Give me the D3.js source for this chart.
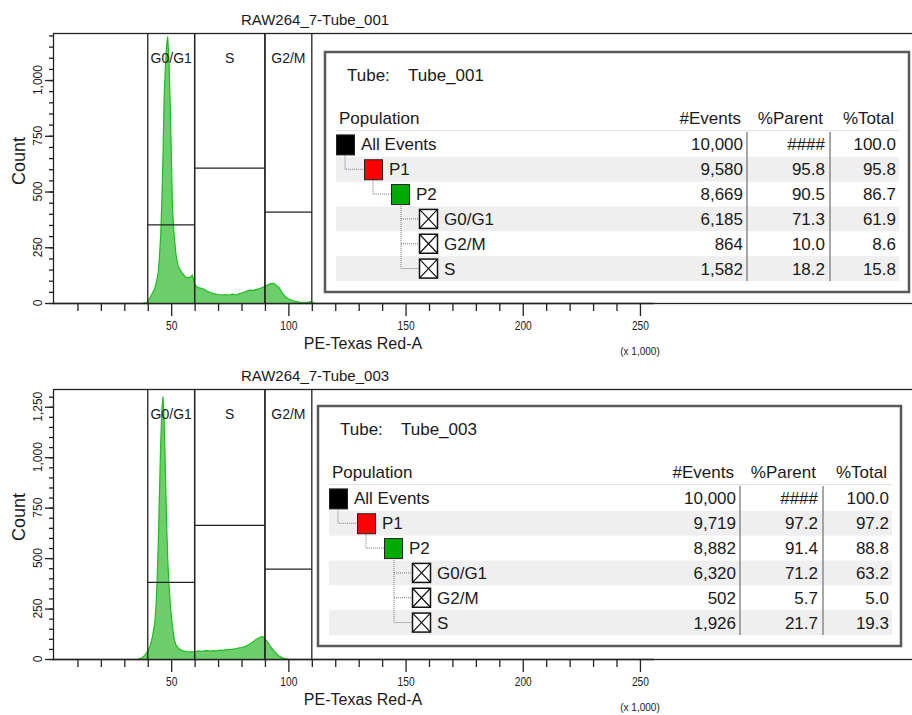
<!DOCTYPE html>
<html>
<head>
<meta charset="utf-8">
<script src="https://cdn.jsdelivr.net/npm/d3@7"></script>
<style>
  body { margin: 0; background: #fff; }
  text { font-family: "Liberation Sans", Arial, sans-serif; fill: #1a1a1a; }
</style>
</head>
<body>
<script>
// histogram channels (x 1,000) and counts
const tube001X = [38, 39, 40, 41, 42, 43, 43.5, 44, 44.5, 45, 45.5, 46, 46.5, 47, 47.5, 48, 48.5, 49, 49.5, 50, 50.5, 51, 51.5, 52, 52.5, 53,
  54, 55, 56, 57, 58, 59, 60, 61, 62, 63, 64, 65, 66, 67, 68, 69, 70, 71, 72, 73, 74, 75, 76, 77, 78, 79, 80,
  81, 82, 83, 84, 85, 86, 87, 88, 89, 90, 91, 92, 93, 94, 95, 96, 97, 98, 99, 100, 101, 102, 103, 104, 105, 106, 107, 108, 109, 110, 111];
const tube001Counts = [0, 0, 6, 25, 45, 65, 85, 110, 140, 210, 300, 450, 660, 925, 1050, 1150, 1195, 1100, 920, 700, 450, 340, 280, 220, 190, 165,
  145, 130, 118, 112, 115, 125, 85, 72, 68, 66, 62, 55, 50, 46, 43, 40, 38, 37, 36, 38, 35, 37, 40, 38, 36, 42, 45,
  48, 52, 56, 58, 55, 60, 63, 66, 70, 75, 80, 85, 88, 86, 78, 70, 52, 36, 26, 18, 14, 10, 7, 5, 3, 2, 1, 2, 6, 3, 0];

const tube003X = [36, 37, 38, 39, 40, 41, 42, 43, 43.5, 44, 44.5, 45, 45.5, 46, 46.5, 47, 47.5, 48, 48.5, 49, 49.5, 50, 50.5, 51, 51.5, 52,
  53, 54, 55, 56, 57, 58, 59, 60, 61, 62, 63, 64, 65, 66, 67, 68, 69, 70, 71, 72, 73, 74, 75, 76, 77, 78, 79, 80,
  81, 82, 83, 84, 85, 86, 87, 88, 89, 90, 91, 92, 93, 94, 95, 96, 97, 98, 99, 100];
const tube003Counts = [0, 3, 10, 22, 40, 65, 110, 180, 260, 390, 580, 820, 1060, 1230, 1300, 1180, 950, 700, 500, 380, 290, 220, 170, 120, 90, 70,
  55, 45, 40, 38, 36, 35, 35, 36, 38, 40, 38, 40, 41, 40, 39, 41, 40, 42, 44, 43, 45, 46, 47, 48, 50, 52, 55, 57,
  60, 64, 70, 78, 86, 95, 102, 108, 112, 100, 85, 68, 52, 38, 25, 15, 8, 3, 1, 0];

// interval gates
const gateNames = ['G0/G1', 'S', 'G2/M'];
const gateStart = [40, 60, 90];
const gateEnd = [60, 90, 110];
const tube001GateLevel = [350, 605, 408];
const tube003GateLevel = [380, 662, 445];

// axis ticks
const xTickLabels = [50, 100, 150, 200, 250];
const tube001YTicks = [0, 250, 500, 750, 1000];
const tube003YTicks = [0, 250, 500, 750, 1000, 1250];

// statistics tables
const populations = ['All Events', 'P1', 'P2', 'G0/G1', 'G2/M', 'S'];
const popLevel = [0, 1, 2, 3, 3, 3];
const popIcon = ['#000000', '#ff0000', '#00aa00', 'cross', 'cross', 'cross'];
const tube001Events = ['10,000', '9,580', '8,669', '6,185', '864', '1,582'];
const tube001Parent = ['####', '95.8', '90.5', '71.3', '10.0', '18.2'];
const tube001Total = ['100.0', '95.8', '86.7', '61.9', '8.6', '15.8'];
const tube003Events = ['10,000', '9,719', '8,882', '6,320', '502', '1,926'];
const tube003Parent = ['####', '97.2', '91.4', '71.2', '5.7', '21.7'];
const tube003Total = ['100.0', '97.2', '88.8', '63.2', '5.0', '19.3'];

const svg = d3.select('body').append('svg')
  .attr('width', 912)
  .attr('height', 715);

function drawPanel(p) {
  const g = svg.append('g').attr('transform', `translate(0,${p.dy})`);
  const top = 33, bottom = 303;

  const x = d3.scaleLinear().domain([0, 256]).range([54, 654]);
  const y = d3.scaleLinear().domain([0, p.yMax]).range([bottom, top]);

  g.append('text')
    .attr('x', 315).attr('y', 25)
    .attr('text-anchor', 'middle')
    .style('font-size', '15px')
    .text(p.title);

  // plot frame (runs out to the right edge of the window)
  g.append('rect')
    .attr('x', 53.5).attr('y', top + 0.5)
    .attr('width', 880).attr('height', bottom - top)
    .style('fill', 'none')
    .style('stroke', '#222')
    .style('stroke-width', 1.3);

  // histogram
  const pts = p.xs.map((v, i) => [v, p.counts[i]]);
  g.append('path')
    .datum(pts)
    .attr('d', d3.area().x(d => x(d[0])).y0(bottom).y1(d => y(d[1])))
    .style('fill', '#6ccf6c');
  g.append('path')
    .datum(pts)
    .attr('d', d3.line().x(d => x(d[0])).y(d => y(d[1])))
    .style('fill', 'none')
    .style('stroke', '#1dbd1d')
    .style('stroke-width', 1.2);

  // gates
  gateNames.forEach((name, i) => {
    const x0 = x(gateStart[i]), x1 = x(gateEnd[i]);
    g.append('line').attr('x1', x0).attr('x2', x0).attr('y1', top).attr('y2', bottom)
      .style('stroke', '#222').style('stroke-width', 1.3);
    g.append('line').attr('x1', x1).attr('x2', x1).attr('y1', top).attr('y2', bottom)
      .style('stroke', '#222').style('stroke-width', 1.3);
    g.append('line').attr('x1', x0).attr('x2', x1)
      .attr('y1', y(p.gateLevel[i])).attr('y2', y(p.gateLevel[i]))
      .style('stroke', '#222').style('stroke-width', 1.3);
    g.append('text')
      .attr('x', (x0 + x1) / 2).attr('y', top + 30)
      .attr('text-anchor', 'middle')
      .style('font-size', '14px')
      .text(name);
  });

  // x axis
  const xMinor = d3.range(10, 260, 10).filter(v => v % 50 !== 0);
  const xMinorAxis = g.append('g').attr('transform', `translate(0,${bottom})`)
    .call(d3.axisBottom(x).tickValues(xMinor).tickSize(8).tickFormat(''));
  const xMajorAxis = g.append('g').attr('transform', `translate(0,${bottom})`)
    .call(d3.axisBottom(x).tickValues(xTickLabels).tickSize(13).tickPadding(5));
  [xMinorAxis, xMajorAxis].forEach(a => {
    a.select('.domain').remove();
    a.selectAll('line').style('stroke', '#222').style('stroke-width', 1.3);
  });
  xMajorAxis.selectAll('text')
    .style('font-size', '12px')
    .style('font-family', '"Liberation Sans", Arial, sans-serif')
    .attr('fill', '#1a1a1a')
    .attr('transform', 'scale(0.85,1)');
  g.append('line').attr('x1', 53).attr('x2', 654).attr('y1', bottom + 0.5).attr('y2', bottom + 0.5)
    .style('stroke', '#222').style('stroke-width', 1.5);

  g.append('text')
    .attr('x', 363).attr('y', 349)
    .attr('text-anchor', 'middle')
    .style('font-size', '16px')
    .text('PE-Texas Red-A');
  g.append('text')
    .attr('x', 640).attr('y', 355)
    .attr('text-anchor', 'middle')
    .style('font-size', '10px')
    .text('(x 1,000)');

  // y axis
  const yMinorAxis = g.append('g').attr('transform', 'translate(54,0)')
    .call(d3.axisLeft(y).tickValues(d3.range(0, p.yMax, 50)).tickSize(5).tickFormat(''));
  const yMajorAxis = g.append('g').attr('transform', 'translate(54,0)')
    .call(d3.axisLeft(y).tickValues(p.yTicks).tickSize(9).tickFormat(''));
  [yMinorAxis, yMajorAxis].forEach(a => {
    a.select('.domain').remove();
    a.selectAll('line').style('stroke', '#222').style('stroke-width', 1.3);
  });
  g.selectAll('.ylab')
    .data(p.yTicks)
    .join('text')
    .attr('class', 'ylab')
    .attr('transform', d => `translate(42,${y(d)}) rotate(-90)`)
    .attr('text-anchor', 'middle')
    .style('font-size', '12px')
    .text(d3.format(','));
  g.append('text')
    .attr('transform', `translate(25,161) rotate(-90)`)
    .attr('text-anchor', 'middle')
    .style('font-size', '18px')
    .text('Count');

  drawTable(g, p.tableX, p.tableY, p.tableW, p.tube, p.events, p.parent, p.total);
}

function drawTable(g, tx, ty, w, tube, events, parent, total) {
  const t = g.append('g').attr('transform', `translate(${tx},${ty})`);
  const row = d3.scaleBand().domain(populations).range([80, 229]);
  const levelX = [11, 39, 66, 94];
  const colRight = [418, 500, 571];
  const sep = [422, 505];

  t.append('rect')
    .attr('width', w).attr('height', 240)
    .style('fill', '#fff')
    .style('stroke', '#5a5a5a')
    .style('stroke-width', 2.5);

  t.append('text').attr('x', 22).attr('y', 29).style('font-size', '17px').text('Tube:');
  t.append('text').attr('x', 83).attr('y', 29).style('font-size', '17px').text(tube);

  t.append('text').attr('x', 14).attr('y', 72).style('font-size', '17px').text('Population');
  ['#Events', '%Parent', '%Total'].forEach((h, i) => {
    t.append('text').attr('x', colRight[i] - 2).attr('y', 72)
      .attr('text-anchor', 'end').style('font-size', '17px').text(h);
  });
  t.append('line').attr('x1', 11).attr('x2', 574).attr('y1', 78.5).attr('y2', 78.5)
    .style('stroke', '#e4e4e4');

  // shaded rows
  t.selectAll('.band')
    .data(populations.filter((d, i) => i % 2 === 1))
    .join('rect')
    .attr('x', 11).attr('width', 563)
    .attr('y', d => row(d)).attr('height', row.bandwidth())
    .style('fill', '#efefef');

  sep.forEach(sx => {
    t.append('line').attr('x1', sx).attr('x2', sx).attr('y1', 80).attr('y2', 229)
      .style('stroke', '#8a8a8a').style('stroke-width', 1.5);
  });

  // tree connectors
  const mid = d => row(d) + row.bandwidth() / 2;
  const dotted = sel => sel.style('fill', 'none').style('stroke', '#777').style('stroke-dasharray', '1,1');
  t.append('path').call(dotted)
    .attr('d', `M${levelX[0] + 9},${mid('All Events') + 10}V${mid('P1')}H${levelX[1]}`);
  t.append('path').call(dotted)
    .attr('d', `M${levelX[1] + 9},${mid('P1') + 10}V${mid('P2')}H${levelX[2]}`);
  t.append('path').call(dotted)
    .attr('d', `M${levelX[2] + 10},${mid('P2') + 10}V${mid('S')}H${levelX[3]}` +
      `M${levelX[2] + 10},${mid('G0/G1')}H${levelX[3]}M${levelX[2] + 10},${mid('G2/M')}H${levelX[3]}`);

  populations.forEach((pop, i) => {
    const ix = levelX[popLevel[i]], cy = mid(pop);
    if (popIcon[i] === 'cross') {
      t.append('rect').attr('x', ix + 0.5).attr('y', cy - 9.5).attr('width', 18).attr('height', 19)
        .style('fill', '#fff').style('stroke', '#111').style('stroke-width', 1.5);
      t.append('path').attr('d', `M${ix + 1},${cy - 9}L${ix + 18},${cy + 9}M${ix + 18},${cy - 9}L${ix + 1},${cy + 9}`)
        .style('stroke', '#111').style('stroke-width', 1.2);
    } else {
      t.append('rect').attr('x', ix + 0.5).attr('y', cy - 9.5).attr('width', 18).attr('height', 20)
        .style('fill', popIcon[i]).style('stroke', '#222').style('stroke-width', 1);
    }
    t.append('text').attr('x', ix + 25).attr('y', cy + 6).style('font-size', '17px').text(pop);
    [events[i], parent[i], total[i]].forEach((v, j) => {
      t.append('text').attr('x', colRight[j]).attr('y', cy + 6)
        .attr('text-anchor', 'end').style('font-size', '17px').text(v);
    });
  });
}

drawPanel({
  dy: 0, yMax: 1211, title: 'RAW264_7-Tube_001',
  xs: tube001X, counts: tube001Counts, gateLevel: tube001GateLevel, yTicks: tube001YTicks,
  tableX: 325, tableY: 52, tableW: 584, tube: 'Tube_001',
  events: tube001Events, parent: tube001Parent, total: tube001Total
});

drawPanel({
  dy: 356, yMax: 1338, title: 'RAW264_7-Tube_003',
  xs: tube003X, counts: tube003Counts, gateLevel: tube003GateLevel, yTicks: tube003YTicks,
  tableX: 318, tableY: 50, tableW: 583, tube: 'Tube_003',
  events: tube003Events, parent: tube003Parent, total: tube003Total
});
</script>
</body>
</html>
